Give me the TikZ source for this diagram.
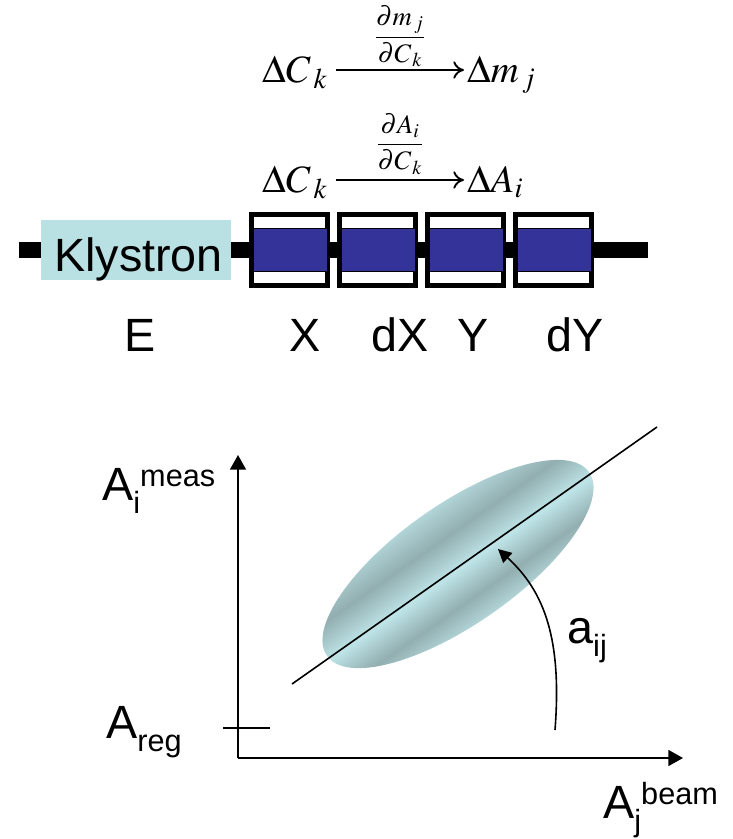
\documentclass[tikz,border=0pt]{standalone}
\usepackage{mathptmx}
\usepackage{fontspec}
\newfontfamily\arialf{Liberation Sans}
\usetikzlibrary{arrows.meta,calc}
\definecolor{klyc}{HTML}{B9E0E3}
\definecolor{modc}{HTML}{333399}
\definecolor{ellL}{HTML}{BEE4E7}
\definecolor{ellD}{HTML}{92AEB0}
\definecolor{ellM}{HTML}{B2D5D8}
\pgfdeclareverticalshading{ellshade}{100bp}{color(0bp)=(ellM); color(25bp)=(ellM); color(35bp)=(ellD); color(48bp)=(ellL); color(62bp)=(ellD); color(75bp)=(ellM); color(100bp)=(ellM)}
\newcommand\lsub[1]{\raisebox{-10pt}{\fontsize{23}{26}\selectfont #1}}
\newcommand\usup[1]{\raisebox{10pt}{\fontsize{23}{26}\selectfont #1}}
\begin{document}
\begin{tikzpicture}[x=0.75pt,y=-0.75pt,
  eqtext/.style={inner sep=0pt, font=\fontsize{29}{33}\selectfont},
  fractext/.style={inner sep=0pt, font=\fontsize{20}{24}\selectfont},
  eqarrow/.style={line width=1.4pt, -{To[length=8pt,width=13pt]}},
  lab/.style={inner sep=0pt, font=\arialf\fontsize{35}{40}\selectfont},
  axisarrow/.style={line width=1.2pt, -{Triangle[length=11pt,width=12pt]}},
  thinline/.style={line width=1.2pt},
  curvearrow/.style={line width=1.2pt, -{Triangle[length=10pt,width=10pt]}}]
\useasboundingbox (0,0) rectangle (732,839);

% --- top equations ---
\node[eqtext, anchor=base west] (c1) at (262,82) {$\Delta C_{\mkern3mu k}$};
\node[eqtext, anchor=base west] (m1) at (467,82) {$\Delta m_{\mkern2mu j}$};
\node[fractext] (f1) at (400,36) {$\displaystyle\frac{\partial m_{\,j}}{\partial C_{\,k}}$};
\draw[eqarrow] ($(c1.base east)+(8,-12)$) -- ($(m1.base west)+(-3,-12)$);

\node[eqtext, anchor=base west] (c2) at (262,192) {$\Delta C_{\mkern3mu k}$};
\node[eqtext, anchor=base west] (a2) at (467,192) {$\Delta A_{i}$};
\node[fractext] (f2) at (400,144) {$\displaystyle\frac{\partial A_{i}}{\partial C_{\,k}}$};
\draw[eqarrow] ($(c2.base east)+(8,-12)$) -- ($(a2.base west)+(-3,-12)$);

% --- beam line ---
\fill[black] (19,242) rectangle (648,258);
\fill[klyc] (41,220) rectangle (231,280);
\node[lab, anchor=base west] (kly) at (54,271) {Klystron};
\foreach \x in {249,337,425,513} {
  \fill[white] (\x,212) rectangle ++(81,76);
  \draw[line width=3.75pt] (\x+2.5,214.5) rectangle (\x+78.5,285.5);
  \filldraw[fill=modc, draw=black, line width=0.6pt] (\x+4,228) rectangle (\x+78,271);
}
\node[lab, anchor=base] (lE) at (140,351) {E};
\node[lab, anchor=base] (lX) at (305,351) {X};
\node[lab, anchor=base] (ldX) at (400,351) {dX};
\node[lab, anchor=base] (lY) at (473,351) {Y};
\node[lab, anchor=base] (ldY) at (575,351) {dY};

% --- plot ---
\begin{scope}[transform canvas={shift={(458,564)}, rotate=35}]
  \shade[shading=ellshade] (0,0) ellipse [x radius=160, y radius=60];
\end{scope}
\coordinate (O) at (238,758);
\coordinate (ytip) at (238,455);
\coordinate (xtip) at (683,758);
\draw[axisarrow] (O) -- (ytip);
\draw[axisarrow] (O) -- (xtip);
\coordinate (t1) at (223,728);
\coordinate (t2) at (270,728);
\draw[thinline] (t1) -- (t2);
\coordinate (l1) at (292,684);
\coordinate (l2) at (657,427);
\draw[thinline] (l1) -- (l2);
\coordinate (aS) at (555,730);
\coordinate (aE) at (498,549);
\draw[curvearrow] (aS) .. controls (562,640) and (545,592) .. (aE);

\node[lab, anchor=base west] (ymeas) at (102,500) {A\lsub{i}\usup{meas}};
\node[lab, anchor=base west] (areg) at (106,738) {A\lsub{reg}};
\node[lab, anchor=base west] (xbeam) at (603,818) {A\lsub{j}\usup{beam}};
\node[lab, anchor=base west] (aij) at (567,643) {a\lsub{ij}};
\end{tikzpicture}
\end{document}
